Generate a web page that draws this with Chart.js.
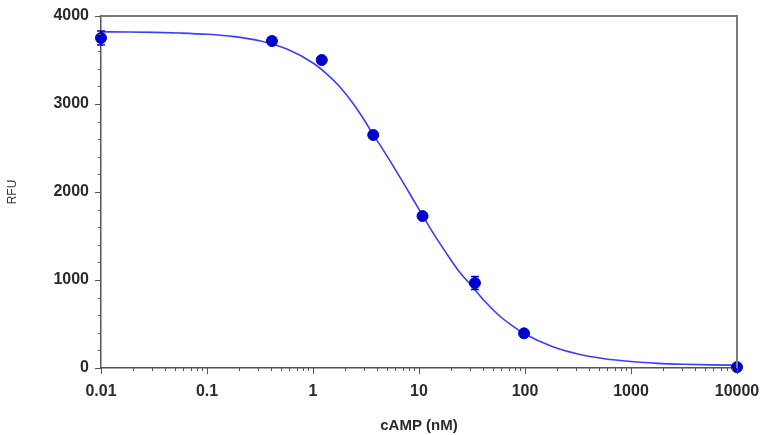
<!DOCTYPE html>
<html>
<head>
<meta charset="utf-8">
<script src="https://cdn.jsdelivr.net/npm/chart.js@4.4.1/dist/chart.umd.min.js"></script>
<style>
  body { margin: 0; background: #fff; }
  #wrap { width: 764px; height: 435px; }
</style>
</head>
<body>
<div id="wrap"><canvas id="curveChart" width="764" height="435"></canvas></div>
<script>
        // measured points (cAMP nM vs RFU)
        const concentrations = [0.01, 0.41, 1.21, 3.7, 10.8, 33.7, 98, 10000];
        const rfuValues = [3750, 3716, 3500, 2648, 1727, 966, 394, 10];
        const rfuErrors = [80, 0, 0, 0, 0, 75, 0, 0];

        // fitted curve
        const curveX = [0.01, 0.018, 0.032, 0.056, 0.1, 0.18, 0.32, 0.56, 1, 1.33, 1.78, 2.37, 3.16, 3.7, 4.22,
                        5.62, 7.5, 10, 11, 13.3, 17.8, 23.7, 31.6, 42.2, 56.2, 75, 100, 178, 316, 562, 1000,
                        1780, 3160, 5620, 10000];
        const curveY = [3820, 3818, 3814, 3806, 3792, 3766, 3717, 3627, 3466, 3348, 3198, 3011, 2787, 2648, 2547,
                        2309, 2058, 1802, 1719, 1553, 1319, 1103, 930, 752, 602, 484, 387, 247, 159, 105, 73,
                        53, 42, 35, 31];

        // axis ticks
        const xMajorTicks = [0.01, 0.1, 1, 10, 100, 1000, 10000];
        const xMinorSteps = [2, 3, 4, 5, 6, 7, 8, 9];
        const yMajorTicks = [0, 1000, 2000, 3000, 4000];
        const yMinorStep = 200;

        const tickFont = { family: 'Arial, "Liberation Sans", sans-serif', size: 16, weight: 'bold' };

        // outward tick marks (long majors, short minors), error bars and the box frame
        const axisDecor = {
            id: 'axisDecor',
            afterDatasetsDraw(chart) {
                const c = chart.ctx;
                const xs = chart.scales.x;
                const ys = chart.scales.y;
                c.save();
                c.strokeStyle = 'rgb(0, 0, 205)';
                c.lineWidth = 1.5;
                concentrations.forEach((x, i) => {
                    if (!rfuErrors[i]) return;
                    const px = xs.getPixelForValue(x);
                    const top = ys.getPixelForValue(rfuValues[i] + rfuErrors[i]);
                    const bot = ys.getPixelForValue(rfuValues[i] - rfuErrors[i]);
                    c.beginPath();
                    c.moveTo(px, top); c.lineTo(px, bot);
                    c.moveTo(px - 4, top); c.lineTo(px + 4, top);
                    c.moveTo(px - 4, bot); c.lineTo(px + 4, bot);
                    c.stroke();
                });
                c.restore();
            },
            afterDraw(chart) {
                const c = chart.ctx;
                const area = chart.chartArea;
                const xs = chart.scales.x;
                const ys = chart.scales.y;
                c.save();
                c.strokeStyle = '#555';
                c.lineWidth = 1;
                xs.ticks.forEach(t => {
                    const px = Math.round(xs.getPixelForValue(t.value)) + 0.5;
                    const len = t.major ? 6 : 3;
                    c.beginPath();
                    c.moveTo(px, area.bottom);
                    c.lineTo(px, area.bottom + len);
                    c.stroke();
                });
                ys.ticks.forEach(t => {
                    const py = Math.round(ys.getPixelForValue(t.value)) + 0.5;
                    const len = t.major ? 6 : 3;
                    c.beginPath();
                    c.moveTo(area.left, py);
                    c.lineTo(area.left - len, py);
                    c.stroke();
                });
                // top and right frame
                c.strokeStyle = '#7a7a7a';
                c.lineWidth = 2;
                c.beginPath();
                c.moveTo(area.left, area.top);
                c.lineTo(area.right, area.top);
                c.lineTo(area.right, area.bottom);
                c.stroke();
                c.restore();
            }
        };

        const ctx = document.getElementById('curveChart').getContext('2d');

        const chart = new Chart(ctx, {
            type: 'scatter',
            data: {
                datasets: [
                    {
                        label: 'Fit',
                        data: curveX.map((x, i) => ({ x: x, y: curveY[i] })),
                        showLine: true,
                        borderColor: 'rgb(60, 60, 255)',
                        borderWidth: 1.6,
                        pointRadius: 0,
                        cubicInterpolationMode: 'monotone',
                        order: 2
                    },
                    {
                        label: 'RFU',
                        data: concentrations.map((x, i) => ({ x: x, y: rfuValues[i] })),
                        backgroundColor: 'rgb(0, 0, 205)',
                        borderColor: 'rgb(0, 0, 205)',
                        pointRadius: 5.5,
                        order: 1
                    }
                ]
            },
            options: {
                responsive: false,
                animation: false,
                clip: false,
                layout: { autoPadding: false, padding: { left: 0, top: 16, right: 27, bottom: 0 } },
                plugins: {
                    legend: { display: false },
                    tooltip: { enabled: false }
                },
                scales: {
                    x: {
                        type: 'logarithmic',
                        min: 0.01,
                        max: 10000,
                        afterBuildTicks: scale => {
                            const ticks = [];
                            xMajorTicks.forEach((m, i) => {
                                ticks.push({ value: m, major: true });
                                if (i < xMajorTicks.length - 1) {
                                    xMinorSteps.forEach(s => ticks.push({ value: m * s, major: false }));
                                }
                            });
                            scale.ticks = ticks;
                        },
                        afterFit: scale => { scale.height = 67; },
                        ticks: {
                            autoSkip: false,
                            maxRotation: 0,
                            padding: 0,
                            color: '#2b2b2b',
                            font: tickFont,
                            callback: function (value) {
                                return xMajorTicks.includes(value) ? String(value) : '';
                            }
                        },
                        // invisible tick marks only push the labels away; the visible ones come from axisDecor
                        grid: { drawOnChartArea: false, drawTicks: true, tickLength: 14, tickColor: 'rgba(0,0,0,0)' },
                        border: { display: true, color: '#555', width: 1.5 },
                        title: {
                            display: true,
                            text: 'cAMP (nM)',
                            color: '#2b2b2b',
                            font: { family: 'Arial, "Liberation Sans", sans-serif', size: 15, weight: 'bold' },
                            padding: { top: 2, bottom: 0 }
                        }
                    },
                    y: {
                        type: 'linear',
                        min: 0,
                        max: 4000,
                        afterBuildTicks: scale => {
                            const ticks = [];
                            for (let v = yMajorTicks[0]; v <= yMajorTicks[yMajorTicks.length - 1]; v += yMinorStep) {
                                ticks.push({ value: v, major: yMajorTicks.includes(v) });
                            }
                            scale.ticks = ticks;
                        },
                        afterFit: scale => { scale.width = 101; },
                        ticks: {
                            autoSkip: false,
                            padding: 0,
                            color: '#2b2b2b',
                            font: tickFont,
                            callback: function (value) {
                                return yMajorTicks.includes(value) ? String(value) : '';
                            }
                        },
                        grid: { drawOnChartArea: false, drawTicks: true, tickLength: 12, tickColor: 'rgba(0,0,0,0)' },
                        border: { display: true, color: '#555', width: 1.5 },
                        title: {
                            display: true,
                            text: 'RFU',
                            color: '#333',
                            font: { family: 'Arial, "Liberation Sans", sans-serif', size: 12 },
                            padding: { top: 5, bottom: 0 }
                        }
                    }
                }
            },
            plugins: [axisDecor]
        });
</script>
</body>
</html>
